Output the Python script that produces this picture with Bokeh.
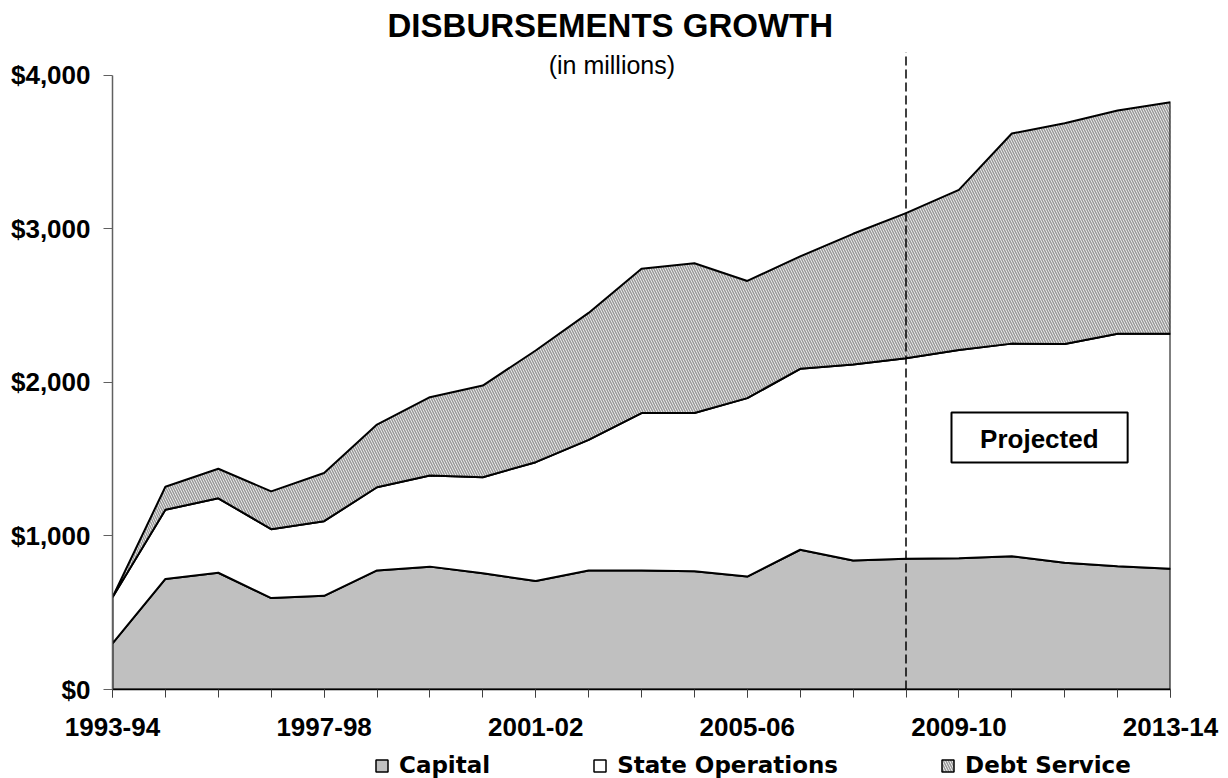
from bokeh.plotting import figure
from bokeh.layouts import column
from bokeh.models import (Range1d, FixedTicker, NumeralTickFormatter, Legend,
                          LegendItem, Label, BoxAnnotation)
from bokeh.embed import file_html
from bokeh.resources import INLINE

# Fiscal years (category axis)
years = ["1993-94", "1994-95", "1995-96", "1996-97", "1997-98", "1998-99",
         "1999-00", "2000-01", "2001-02", "2002-03", "2003-04", "2004-05",
         "2005-06", "2006-07", "2007-08", "2008-09", "2009-10", "2010-11",
         "2011-12", "2012-13", "2013-14"]
label_years = ["1993-94", "1997-98", "2001-02", "2005-06", "2009-10", "2013-14"]
projection_start = "2008-09"

# Disbursements, $ millions
capital = [300, 720, 760, 595, 610, 775, 800, 757, 707, 775, 775, 770,
           735, 910, 840, 852, 855, 867, 825, 803, 786]
state_operations = [300, 450, 485, 449, 486, 542, 593, 625, 773, 850, 1025,
                    1030, 1162, 1178, 1276, 1305, 1355, 1385, 1425, 1513, 1530]
debt_service = [0, 150, 192, 246, 314, 408, 510, 597, 727, 827, 940, 975,
                763, 732, 851, 945, 1043, 1368, 1437, 1454, 1508]

y_ticks = [0, 1000, 2000, 3000, 4000]

CAPITAL_STYLE = dict(fill_color="#c0c0c0", line_color="black")
OPS_STYLE = dict(fill_color="white", line_color="black")
DEBT_STYLE = dict(fill_color="white", hatch_pattern="\\", hatch_color="#999999",
                  hatch_scale=5, hatch_weight=1.6, line_color="black")

x = list(range(len(years)))
zero = [0] * len(years)
ops_top = [c + s for c, s in zip(capital, state_operations)]
debt_top = [o + d for o, d in zip(ops_top, debt_service)]


def band(lower, upper):
    return x + x[::-1], list(upper) + list(lower)[::-1]


bands = [band(zero, capital), band(capital, ops_top), band(ops_top, debt_top)]
styles = [CAPITAL_STYLE, OPS_STYLE, DEBT_STYLE]
names = ["Capital", "State Operations", "Debt Service"]

p = figure(width=1228, height=748,
           x_range=Range1d(0, len(years) - 1), y_range=Range1d(0, 4486),
           output_backend="svg", toolbar_location=None,
           min_border_left=112, min_border_right=58,
           min_border_top=0, min_border_bottom=59,
           outline_line_color=None, background_fill_color="white",
           border_fill_color="white")
p.grid.visible = False

for (bx, by), style in zip(bands, styles):
    p.patch(bx, by, line_width=2, **style)

# Start of the projected years
px = years.index(projection_start)
p.segment(x0=[px], y0=[0], x1=[px], y1=[4149], line_color="black",
          line_width=1.5, line_dash="9 4")

p.add_layout(BoxAnnotation(left=15.86, right=19.19, bottom=1478, top=1803,
                           fill_color="white", fill_alpha=1,
                           line_color="black", line_alpha=1, line_width=2))
p.add_layout(Label(x=17.52, y=1631, text="Projected", text_align="center",
                   text_baseline="middle", text_font="Liberation Sans",
                   text_font_style="bold", text_font_size="26px",
                   text_color="black"))

p.add_layout(Label(x=9.41, y=4323, text="DISBURSEMENTS GROWTH",
                   text_align="center", text_baseline="middle",
                   text_font="Liberation Sans", text_font_style="bold",
                   text_font_size="33px", text_color="black"))
p.add_layout(Label(x=9.44, y=4069, text="(in millions)",
                   text_align="center", text_baseline="middle",
                   text_font="Liberation Sans", text_font_size="25px",
                   text_color="black"))

# Axes
xa = p.xaxis[0]
xa.ticker = FixedTicker(ticks=[years.index(y) for y in label_years],
                        minor_ticks=x)
xa.major_label_overrides = {years.index(y): y for y in label_years}
xa.axis_line_color = "black"
xa.axis_line_width = 1.5
xa.major_tick_in = 0
xa.major_tick_out = 8
xa.minor_tick_in = 0
xa.minor_tick_out = 8
xa.major_tick_line_color = "#404040"
xa.minor_tick_line_color = "#404040"
xa.major_label_text_font = "Liberation Sans"
xa.major_label_text_font_style = "bold"
xa.major_label_text_font_size = "26px"
xa.major_label_text_color = "black"
xa.major_label_standoff = 20

ya = p.yaxis[0]
ya.ticker = FixedTicker(ticks=y_ticks, minor_ticks=[])
ya.bounds = (y_ticks[0], y_ticks[-1])
ya.formatter = NumeralTickFormatter(format="$0,0")
ya.axis_line_color = "#606060"
ya.axis_line_width = 1.5
ya.major_tick_in = 0
ya.major_tick_out = 9
ya.major_tick_line_color = "#606060"
ya.major_label_text_font = "Liberation Sans"
ya.major_label_text_font_style = "bold"
ya.major_label_text_font_size = "26px"
ya.major_label_text_color = "black"
ya.major_label_standoff = 13

# Legend strip under the chart; its frame lines up with the chart's frame,
# and the swatch renderers lie outside its visible range.
lg = figure(width=1228, height=30,
            x_range=Range1d(0, len(years) - 1), y_range=Range1d(-2, -1),
            output_backend="svg", toolbar_location=None,
            x_axis_type=None, y_axis_type=None,
            min_border_left=112, min_border_right=58,
            min_border_top=0, min_border_bottom=0,
            outline_line_color=None, background_fill_color="white",
            border_fill_color="white")
lg.grid.visible = False
items = []
for (bx, by), style, name in zip(bands, styles, names):
    r = lg.patch(bx, by, line_width=1.5, **style)
    items.append(LegendItem(label=name, renderers=[r]))

legend = Legend(items=items, orientation="horizontal", location=(262, 0),
                label_text_font="DejaVu Sans", label_text_font_style="bold",
                label_text_font_size="23px", label_text_color="black",
                glyph_width=15, glyph_height=15,
                label_standoff=10, spacing=102, padding=0, margin=0,
                border_line_color=None, background_fill_alpha=0)
lg.add_layout(legend)

open("out.html", "w").write(file_html(column(p, lg, spacing=0), INLINE))
